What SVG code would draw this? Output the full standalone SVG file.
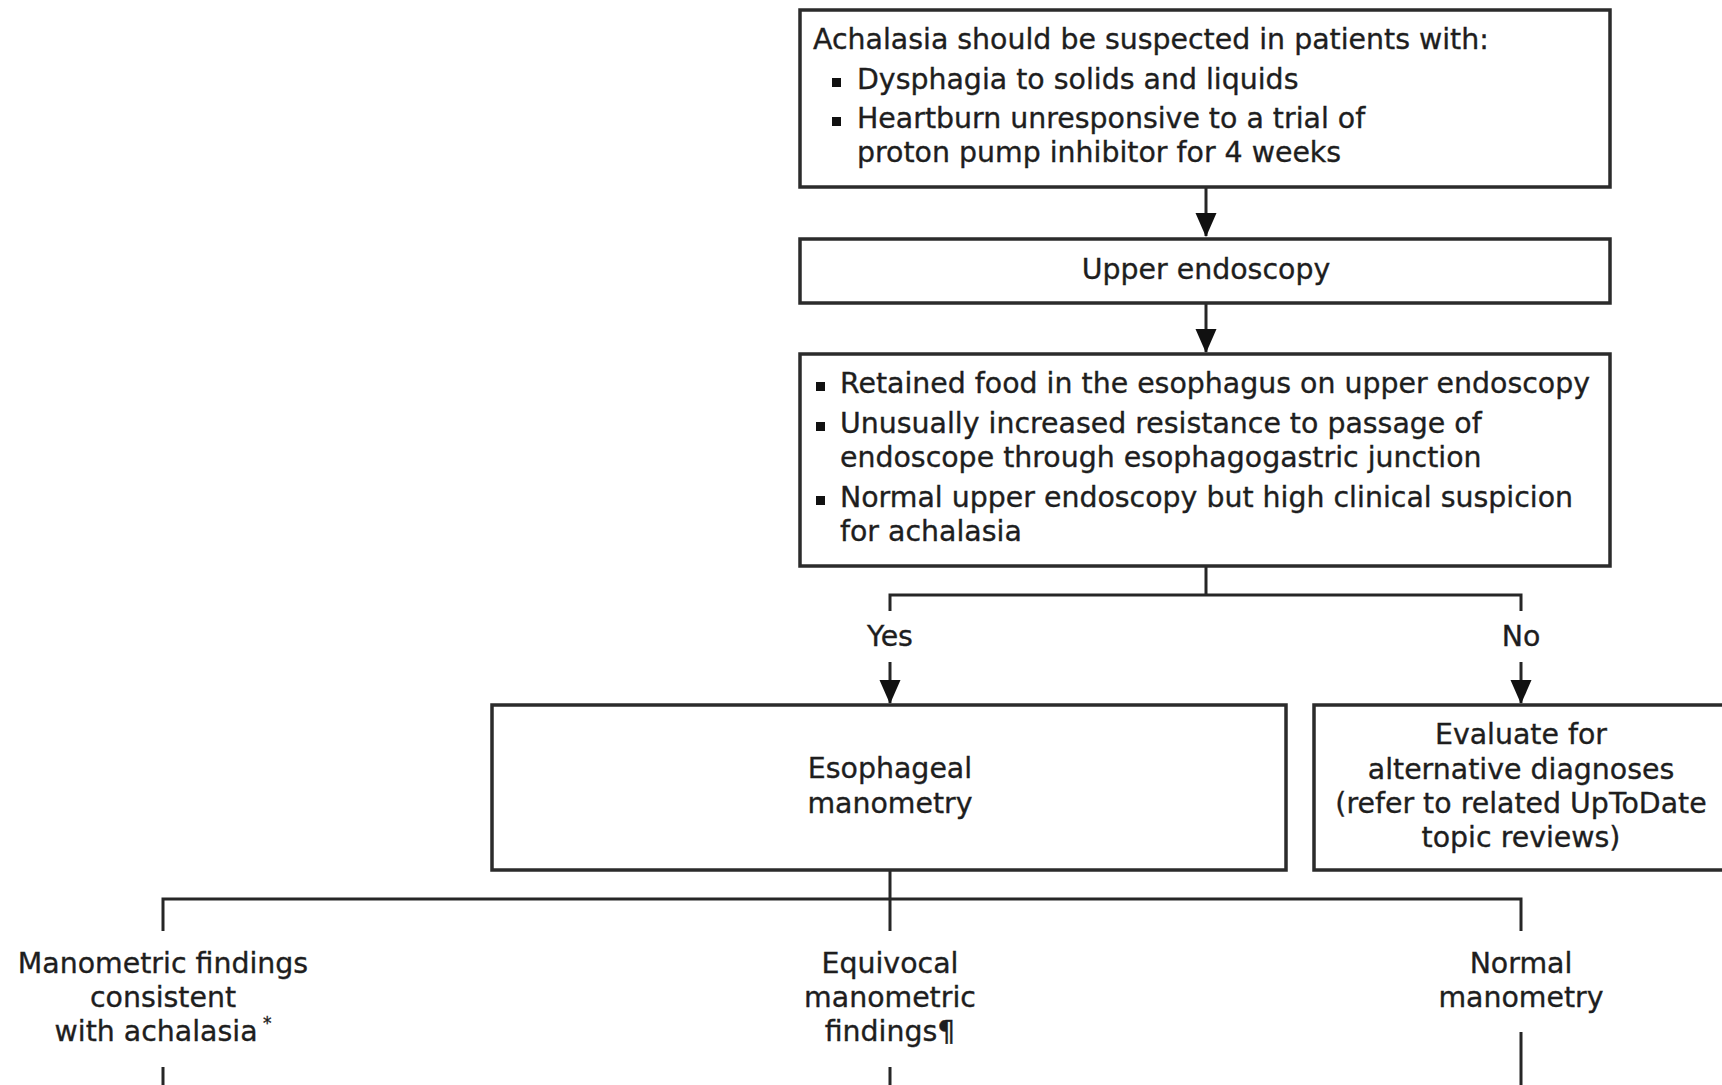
<svg xmlns="http://www.w3.org/2000/svg" width="1722" height="1085" viewBox="0 0 1722 1085">
<style>
.box{fill:#fff;stroke:#2b2b2b;stroke-width:3.5}
.con{fill:none;stroke:#262626;stroke-width:3}
.t{font-family:"DejaVu Sans","Liberation Sans",sans-serif;font-size:28.4px;fill:#1e1e1e;stroke:#1e1e1e;stroke-width:0.35}
.c{text-anchor:middle}
.b{fill:#111}
</style>
<defs>
<marker id="ah" markerUnits="userSpaceOnUse" markerWidth="24" markerHeight="24" viewBox="0 0 24 24" refX="23" refY="12" orient="auto">
<path d="M0,1.5 L24,12 L0,22.5 z" fill="#111"/>
</marker>
</defs>
<rect width="1722" height="1085" fill="#fff"/>
<g id="connectors">
<line class="con" x1="1206" y1="187" x2="1206" y2="236" marker-end="url(#ah)"/>
<line class="con" x1="1206" y1="303" x2="1206" y2="352" marker-end="url(#ah)"/>
<path class="con" d="M1206,566 V595 M890,611 V595 H1521 V611"/>
<line class="con" x1="890" y1="662" x2="890" y2="703" marker-end="url(#ah)"/>
<line class="con" x1="1521" y1="662" x2="1521" y2="703" marker-end="url(#ah)"/>
<path class="con" d="M890,870 V931 M163,931 V899 H1521 V931"/>
<path class="con" d="M163,1067 V1085 M890,1067 V1085 M1521,1032 V1085"/>
</g>
<g id="n-suspect">
<rect class="box" x="800" y="10" width="810" height="177"/>
<text class="t" x="813" y="49">Achalasia should be suspected in patients with:</text>
<rect class="b" x="832" y="78" width="9" height="9"/>
<text class="t" x="857" y="89">Dysphagia to solids and liquids</text>
<rect class="b" x="832" y="117" width="9" height="9"/>
<text class="t" x="857" y="128">Heartburn unresponsive to a trial of</text>
<text class="t" x="857" y="162">proton pump inhibitor for 4 weeks</text>
</g>
<g id="n-endoscopy">
<rect class="box" x="800" y="239" width="810" height="64"/>
<text class="t c" x="1206" y="279">Upper endoscopy</text>
</g>
<g id="n-findings">
<rect class="box" x="800" y="354" width="810" height="212"/>
<rect class="b" x="816" y="382" width="9" height="9"/>
<text class="t" x="840" y="393">Retained food in the esophagus on upper endoscopy</text>
<rect class="b" x="816" y="422" width="9" height="9"/>
<text class="t" x="840" y="433">Unusually increased resistance to passage of</text>
<text class="t" x="840" y="467">endoscope through esophagogastric junction</text>
<rect class="b" x="816" y="496" width="9" height="9"/>
<text class="t" x="840" y="507">Normal upper endoscopy but high clinical suspicion</text>
<text class="t" x="840" y="541">for achalasia</text>
</g>
<g id="l-yes"><text class="t c" x="890" y="646">Yes</text></g>
<g id="l-no"><text class="t c" x="1521" y="646">No</text></g>
<g id="n-manometry">
<rect class="box" x="492" y="705" width="794" height="165"/>
<text class="t c" x="890" y="778">Esophageal</text>
<text class="t c" x="890" y="813">manometry</text>
</g>
<g id="n-alternative">
<rect class="box" x="1314" y="705" width="420" height="165"/>
<text class="t c" x="1521" y="744">Evaluate for</text>
<text class="t c" x="1521" y="779">alternative diagnoses</text>
<text class="t c" x="1521" y="813">(refer to related UpToDate</text>
<text class="t c" x="1521" y="847">topic reviews)</text>
</g>
<g id="n-consistent">
<text class="t c" x="163" y="973">Manometric findings</text>
<text class="t c" x="163" y="1007">consistent</text>
<text class="t c" x="163" y="1041">with achalasia<tspan font-size="17" dy="-12"> *</tspan></text>
</g>
<g id="n-equivocal">
<text class="t c" x="890" y="973">Equivocal</text>
<text class="t c" x="890" y="1007">manometric</text>
<text class="t c" x="890" y="1041">findings¶</text>
</g>
<g id="n-normal">
<text class="t c" x="1521" y="973">Normal</text>
<text class="t c" x="1521" y="1007">manometry</text>
</g>
</svg>
